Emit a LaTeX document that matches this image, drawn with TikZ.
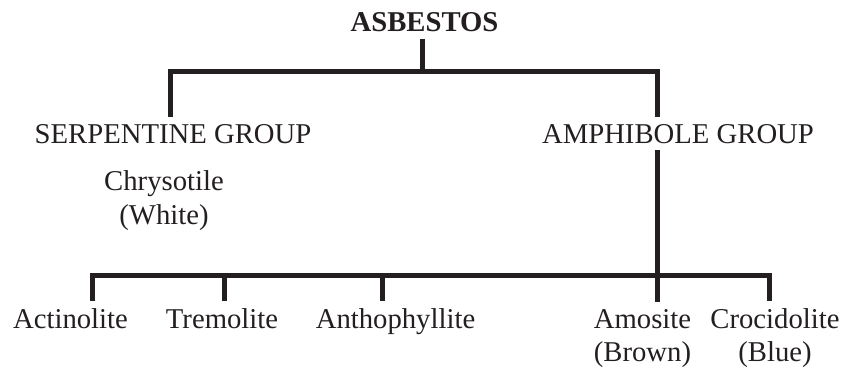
\documentclass[tikz,border=0pt]{standalone}
\usepackage{fontspec}
\setmainfont{Liberation Serif}
\usepackage{tikz}
\usepackage{xcolor}
\definecolor{ink}{RGB}{35,31,32}

\begin{document}
\begin{tikzpicture}[x=0.5pt,y=0.5pt,
  lbl/.style={anchor=base,align=center,text=ink,font=\fontsize{14.35}{16.5}\selectfont},
  head/.style={lbl,font=\fontsize{14.35}{16.5}\selectfont\bfseries},
  bar/.style={ink,line width=2.5pt}]
\useasboundingbox (0,0) rectangle (846,370);
% base of a two-line label is its last line
\node[head] (asb) at (424.5,338) {ASBESTOS};
\node[lbl] (serp) at (173,227) {SERPENTINE GROUP};
\node[lbl] (amph) at (678,227) {AMPHIBOLE GROUP};
\node[lbl] (chry) at (164,146) {Chrysotile\\(White)};
\node[lbl] (act) at (70.5,42) {Actinolite};
\node[lbl] (trem) at (222,42) {Tremolite};
\node[lbl] (anth) at (395.5,42) {Anthophyllite};
\node[lbl] (amos) at (642.5,9) {Amosite\\(Brown)};
\node[lbl] (croc) at (775,9) {Crocidolite\\(Blue)};
\coordinate (jtop) at (422.5,298.5);
\coordinate (jserp) at (170.5,298.5);
\coordinate (jamph) at (657,298.5);
\coordinate (jact) at (92,94.5);
\coordinate (jtrem) at (224,94.5);
\coordinate (janth) at (382,94.5);
\coordinate (jcroc) at (769,94.5);
\draw[bar] (asb.south -| jtop) -- (jtop);
\draw[bar] (jserp |- serp.north) -- (jserp) -- (jamph) -- (jamph |- amph.north);
\draw[bar] (amph.south -| jamph) -- (jamph |- amos.north);
\draw[bar] (jact |- act.north) -- (jact) -- (jcroc) -- (jcroc |- croc.north);
\draw[bar] (jtrem) -- (jtrem |- trem.north);
\draw[bar] (janth) -- (janth |- anth.north);
\end{tikzpicture}
\end{document}
